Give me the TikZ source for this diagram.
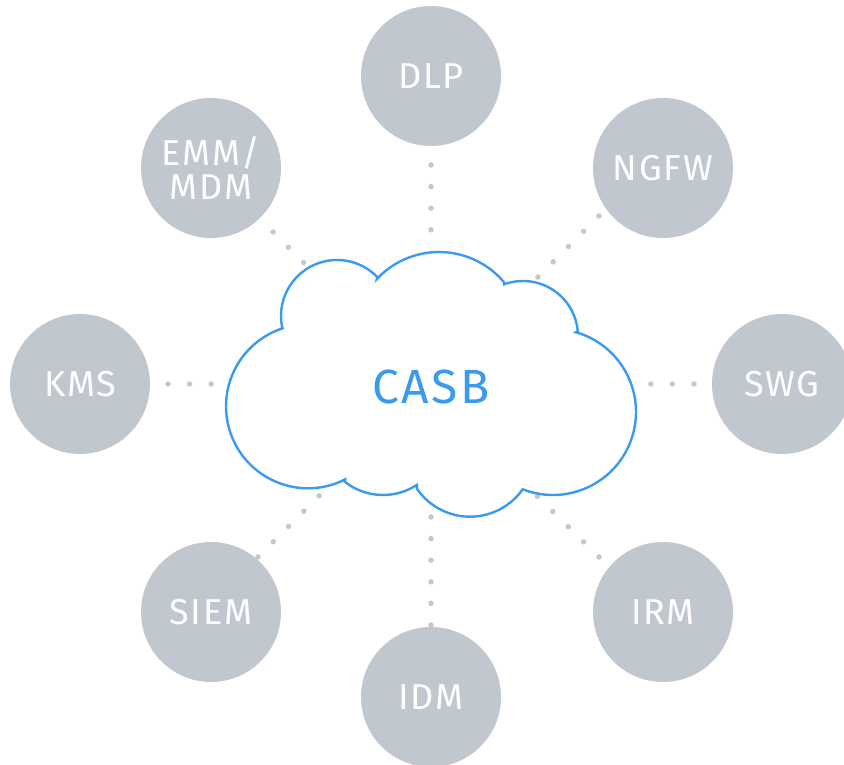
\documentclass[tikz,border=0pt]{standalone}
\usepackage{fontspec}
\setmainfont{Fira Sans}[LetterSpace=5]
\usetikzlibrary{calc}
\definecolor{satgray}{HTML}{C1C7CF}
\definecolor{dotgray}{HTML}{C3C8D0}
\definecolor{cloudblue}{HTML}{3A9AEF}
\tikzset{
  satellite/.style={circle, fill=satgray, minimum size=140pt, inner sep=0pt,
    text=white, font=\fontsize{36}{34}\selectfont, align=center},
  dotlink/.style={draw=dotgray, line width=5.5pt, line cap=round,
    dash pattern=on 0pt off 21.6pt},
  cloudline/.style={draw=cloudblue, line width=2.4pt, fill=white}
}
\begin{document}
\begin{tikzpicture}[x=1pt, y=1pt]
  \useasboundingbox (0,0) rectangle (844,765);
  % satellites
  \node[satellite] (dlp)  at (431,689) {DLP};
  \node[satellite] (ngfw) at (663,597) {NGFW};
  \node[satellite] (swg)  at (782,381) {SWG};
  \node[satellite] (irm)  at (663,153) {IRM};
  \node[satellite] (idm)  at (431,68)  {IDM};
  \node[satellite] (siem) at (211,153) {SIEM};
  \node[satellite] (kms)  at (80,381)  {KMS};
  \node[satellite] (emm)  at (211,597) {EMM/\\MDM};
  % dotted connectors
  \coordinate (dlp-a)  at (431,600); \coordinate (dlp-b)  at (431,535);
  \coordinate (ngfw-a) at (599,549); \coordinate (ngfw-b) at (537,487);
  \coordinate (swg-a)  at (694,381); \coordinate (swg-b)  at (650,381);
  \coordinate (irm-a)  at (599,208); \coordinate (irm-b)  at (537,269);
  \coordinate (idm-a)  at (431,140); \coordinate (idm-b)  at (431,249);
  \coordinate (siem-a) at (258,208); \coordinate (siem-b) at (320,270);
  \coordinate (kms-a)  at (168,381); \coordinate (kms-b)  at (212,381);
  \coordinate (emm-a)  at (273,533); \coordinate (emm-b)  at (304,502);
  \draw[dotlink] (dlp-a) -- (dlp-b);
  \draw[dotlink] (ngfw-a) -- (ngfw-b);
  \draw[dotlink] (swg-a) -- (swg-b);
  \draw[dotlink] (irm-a) -- (irm-b);
  \draw[dotlink] (idm-a) -- (idm-b);
  \draw[dotlink] (siem-a) -- (siem-b);
  \draw[dotlink] (kms-a) -- (kms-b);
  \draw[dotlink] (emm-a) -- (emm-b);
  % cloud outline, one arc per lobe
  \draw[cloudline] ($(337,449)+(191:56)$) arc[start angle=191, end angle=44, radius=56]
    -- ($(439,428)+(137:85)$) arc[start angle=137, end angle=40, radius=85]
    -- ($(523,429)+(110:55)$) arc[start angle=110, end angle=5, radius=55]
    -- ($(553,353)+(74:83)$) arc[start angle=74, end angle=-111, radius=83]
    -- ($(470,312.7)+(-35:64.4)$) arc[start angle=-35, end angle=-145, radius=64.4]
    -- ($(383,332)+(-57:62)$) arc[start angle=-57, end angle=-128, radius=62]
    -- ($(308,358.7)+(-63:82)$) arc[start angle=-63, end angle=-252, radius=82]
    -- cycle;
  \node[text=cloudblue, font=\fontsize{48}{48}\selectfont] (casb) at (431,378.5) {CASB};
\end{tikzpicture}
\end{document}
